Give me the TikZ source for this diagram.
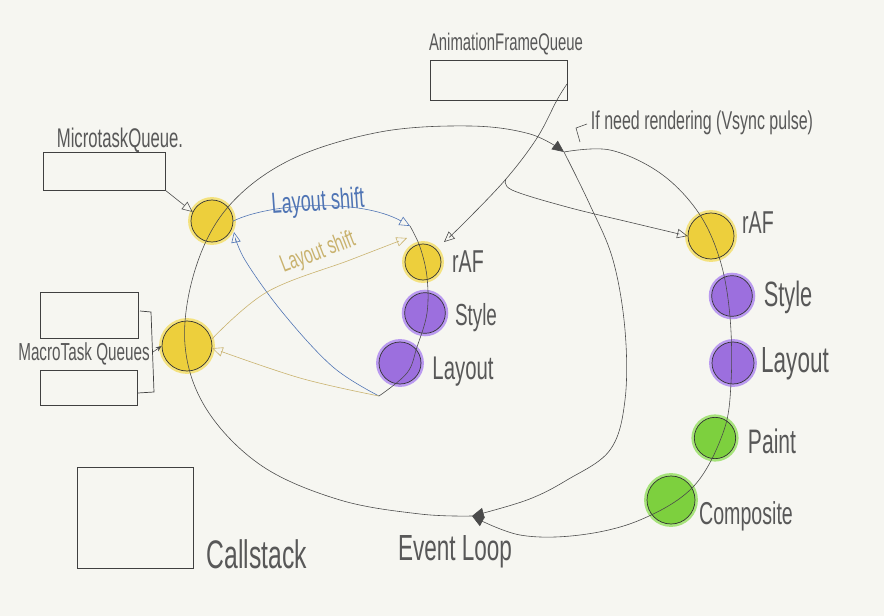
\documentclass[tikz,border=0pt]{standalone}
\usepackage{fontspec}
\newfontfamily\hand[FakeStretch=0.62]{Liberation Sans}
\usetikzlibrary{arrows.meta}
\definecolor{bg}{HTML}{F6F6F1}
\definecolor{ink}{HTML}{4A4A4A}
\definecolor{txt}{HTML}{585858}
\definecolor{yfill}{HTML}{EDCF3C}
\definecolor{yhalo}{HTML}{F4E27E}
\definecolor{pfill}{HTML}{9C6FDE}
\definecolor{phalo}{HTML}{BA9AF0}
\definecolor{gfill}{HTML}{7DD03E}
\definecolor{ghalo}{HTML}{A6E37A}
\definecolor{lblue}{HTML}{4F74B4}
\definecolor{olivel}{HTML}{C9B26E}
\newcommand{\hsz}[1]{\fontsize{#1}{#1}\selectfont}
\begin{document}
\begin{tikzpicture}[x=0.03cm,y=-0.03cm,
  line/.style={draw=ink, line width=0.5pt},
  boxl/.style={draw=black!75, line width=0.6pt},
  lbl/.style={text=txt, inner sep=0pt},
  dot/.style={circle, inner sep=0pt, draw=black!80, line width=0.6pt},
  ydot/.style={dot, fill=yfill, preaction={draw=yhalo, line width=5pt}},
  pdot/.style={dot, fill=pfill, preaction={draw=phalo, line width=5pt}},
  gdot/.style={dot, fill=gfill, preaction={draw=ghalo, line width=5pt}},
  oarrow/.style={-{Triangle[open,length=9pt,width=8pt]}},
  farrow/.style={-{Triangle[length=10pt,width=9pt]}},
]
\useasboundingbox[fill=bg] (0,0) rectangle (884,616);

% boxes
\coordinate (afqa) at (430,60); \coordinate (afqb) at (567,100);
\draw[boxl] (afqa) rectangle (afqb);
\node[lbl, font=\hand\hsz{20.5}] (afql) at (506,44) {AnimationFrameQueue};

\coordinate (mqa) at (43,152); \coordinate (mqb) at (165,190);
\draw[boxl] (mqa) rectangle (mqb);
\node[lbl, font=\hand\hsz{23}] (mql) at (120,140) {MicrotaskQueue.};

\coordinate (m1a) at (40,292); \coordinate (m1b) at (138,338);
\draw[boxl] (m1a) rectangle (m1b);
\coordinate (m2a) at (40,370); \coordinate (m2b) at (137,405);
\draw[boxl] (m2a) rectangle (m2b);
\coordinate (brt) at (140,311); \coordinate (brb) at (138,393); \coordinate (brm) at (153,352);
\draw[boxl] (brt) -- (151,312) -- (154,392) -- (brb);
\node[lbl, font=\hand\hsz{21}] (macl) at (84,354) {MacroTask Queues};

\coordinate (csa) at (77,467); \coordinate (csb) at (193,568);
\draw[boxl] (csa) rectangle (csb);
\node[lbl, font=\hand\hsz{34}] (csl) at (257,554) {Callstack};

% circles
\node[ydot, minimum size=1.26cm] (mt) at (212,221) {};
\node[ydot, minimum size=1.5cm] (mq) at (187,346) {};

\node[ydot, minimum size=1.08cm] (lraf) at (423,262) {};
\node[pdot, minimum size=1.22cm] (lsty) at (425,313) {};
\node[pdot, minimum size=1.26cm] (llay) at (400,363) {};

\node[ydot, minimum size=1.38cm] (rraf) at (711,236) {};
\node[pdot, minimum size=1.22cm] (rsty) at (732,296) {};
\node[pdot, minimum size=1.26cm] (rlay) at (733,363) {};
\node[gdot, minimum size=1.24cm] (rpai) at (715,438) {};
\node[gdot, minimum size=1.44cm] (rcom) at (671,500) {};

% labels
\node[lbl, font=\hand\hsz{27}] (lrafl) at (468,262) {rAF};
\node[lbl, font=\hand\hsz{26}] (lstyl) at (476,318) {Style};
\node[lbl, font=\hand\hsz{28}] (llayl) at (463,372) {Layout};
\node[lbl, font=\hand\hsz{27}] (rrafl) at (758,223) {rAF};
\node[lbl, font=\hand\hsz{30}] (rstyl) at (788,297) {Style};
\node[lbl, font=\hand\hsz{31}] (rlayl) at (795,364) {Layout};
\node[lbl, font=\hand\hsz{29}] (rpail) at (772,441) {Paint};
\node[lbl, font=\hand\hsz{27}] (rcoml) at (746,516) {Composite};
\node[lbl, font=\hand\hsz{31}] (ell) at (455,552) {Event Loop};
\node[lbl, font=\hand\hsz{22}] (vsl) at (702,123) {If need rendering (Vsync pulse)};
\node[lbl, font=\hand\hsz{25}, text=lblue, rotate=4] (bls) at (318,203) {Layout shift};
\node[lbl, font=\hand\hsz{21}, text=olivel, rotate=21] (ols) at (318,253) {Layout shift};

% main loop
\coordinate (el) at (472,516);
\coordinate (vs) at (564,152);
\draw[line, farrow] plot[smooth, tension=0.6] coordinates {(el) (420,514) (340,500) (262,466) (207,410) (185,345) (195,270) (228,207) (290,160) (380,132) (470,126) (530,134) (vs)};
\draw[line, farrow] plot[smooth, tension=0.6] coordinates {(vs) (610,150) (660,173) (698,212) (720,260) (730,317) (731,383) (723,433) (693,487) (640,520) (580,535) (520,535) (el)};
\draw[line, farrow] plot[smooth, tension=0.6] coordinates {(vs) (590,205) (613,260) (625,330) (625,400) (610,450) (567,480) (527,500) (el)};
\draw[line] (580,142) -- (576,128) -- (587,124);

% queues into circles
\draw[line, oarrow] (mqb) -- (mt.155);
\draw[line, -{Stealth[length=5pt,width=4pt]}] (brm) -- (mq.west);

% animation frame queue
\coordinate (afqr) at (567,84);
\coordinate (br) at (506,179);
\draw[line, oarrow] plot[smooth, tension=0.6] coordinates {(afqr) (557,100) (537,138) (br) (465,222) (444,242)};
\draw[line, oarrow] plot[smooth, tension=0.6] coordinates {(br) (512,190) (567,207) (633,223) (rraf.west)};

% left rendering column
\coordinate (ltop) at (410,226);
\coordinate (lend) at (379,396);
\draw[line] plot[smooth, tension=0.6] coordinates {(ltop) (420,247) (427,277) (427,313) (417,347) (407,373) (lend)};

% layout shift loops
\draw[lblue, line width=0.5pt, oarrow] (mt.east) .. controls (270,203) and (360,198) .. (ltop);
\draw[lblue, line width=0.5pt, oarrow] plot[smooth, tension=0.6] coordinates {(lend) (333,367) (283,313) (245,260) (234,232)};
\draw[olivel, line width=0.5pt, oarrow] plot[smooth, tension=0.6] coordinates {(mq.15) (267,292) (350,260) (407,238)};
\draw[olivel, line width=0.5pt, oarrow] plot[smooth, tension=0.6] coordinates {(lend) (300,378) (mq.-5)};
\end{tikzpicture}
\end{document}
